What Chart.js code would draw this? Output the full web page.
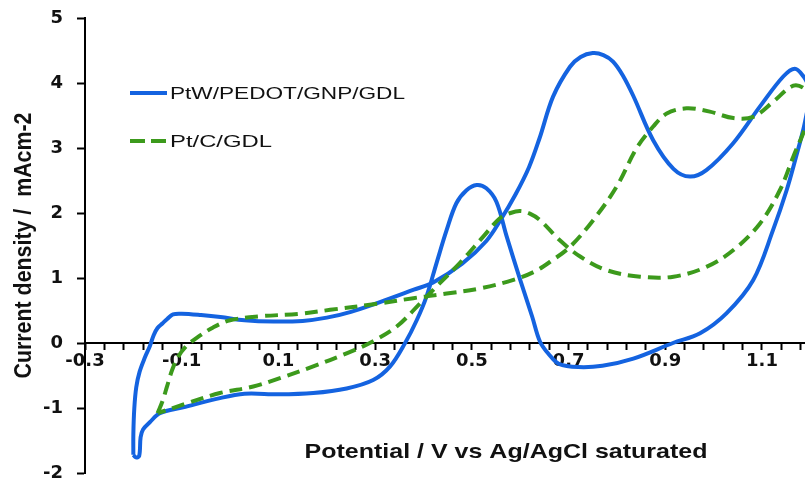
<!DOCTYPE html>
<html>
<head>
<meta charset="utf-8">
<script src="https://cdn.jsdelivr.net/npm/chart.js@4.4.1/dist/chart.umd.min.js"></script>
<style>
  html, body { margin: 0; padding: 0; background: #ffffff; }
  #wrap { width: 805px; height: 483px; }
</style>
</head>
<body>
<div id="wrap"><canvas id="cv" width="805" height="483"></canvas></div>
<script>
// Cyclic voltammograms of two electrodes (potential in V, current density in mA/cm2)
const seriesNames = ['PtW/PEDOT/GNP/GDL', 'Pt/C/GDL'];

const ptwPotential = [
  -0.200, -0.200, -0.198, -0.194, -0.187, -0.176, -0.166, -0.158, -0.150, -0.140,
  -0.130, -0.118, -0.100, -0.060, -0.020, 0.030, 0.090, 0.150, 0.200, 0.250,
  0.310, 0.380, 0.420, 0.480, 0.530, 0.560, 0.590, 0.618, 0.640, 0.668,
  0.703, 0.725, 0.750, 0.772, 0.792, 0.812, 0.834, 0.875, 0.917, 0.951,
  0.985, 1.040, 1.096, 1.144, 1.168, 1.186, 1.197, 1.203, 1.196, 1.186,
  1.170, 1.151, 1.123, 1.082, 1.027, 0.972, 0.916, 0.834, 0.770, 0.720,
  0.680, 0.660, 0.641, 0.625, 0.600, 0.572, 0.551, 0.530, 0.510, 0.489,
  0.468, 0.448, 0.427, 0.406, 0.386, 0.362, 0.331, 0.296, 0.241, 0.172,
  0.100, 0.030, -0.028, -0.097, -0.145, -0.166, -0.180, -0.185, -0.188, -0.195,
  -0.200
];
const ptwCurrent = [
  -1.72, -1.40, -1.00, -0.68, -0.44, -0.22, -0.05, 0.12, 0.23, 0.30,
  0.37, 0.44, 0.45, 0.43, 0.40, 0.35, 0.33, 0.34, 0.39, 0.48,
  0.63, 0.82, 0.93, 1.22, 1.57, 1.90, 2.28, 2.70, 3.15, 3.79,
  4.25, 4.40, 4.46, 4.43, 4.33, 4.12, 3.80, 3.12, 2.68, 2.56,
  2.66, 3.07, 3.64, 4.10, 4.22, 4.10, 3.95, 3.85, 3.65, 3.30,
  2.85, 2.35, 1.74, 0.97, 0.46, 0.15, 0.00, -0.24, -0.35, -0.37,
  -0.32, -0.18, 0.02, 0.40, 0.97, 1.64, 2.17, 2.38, 2.43, 2.35,
  2.15, 1.74, 1.23, 0.71, 0.35, 0.00, -0.36, -0.57, -0.70, -0.77,
  -0.79, -0.78, -0.86, -0.99, -1.08, -1.22, -1.33, -1.45, -1.74, -1.76,
  -1.72
];

const ptcPotential = [
  -0.150, -0.140, -0.130, -0.120, -0.108, -0.092, -0.069, -0.035, 0.000, 0.060,
  0.145, 0.207, 0.310, 0.379, 0.448, 0.517, 0.586, 0.630, 0.662, 0.703,
  0.751, 0.799, 0.841, 0.875, 0.903, 0.944, 0.992, 1.041, 1.082, 1.123,
  1.165, 1.190, 1.203, 1.198, 1.189, 1.165, 1.137, 1.096, 1.041, 0.985,
  0.917, 0.848, 0.779, 0.724, 0.682, 0.641, 0.620, 0.600, 0.580, 0.558,
  0.524, 0.475, 0.427, 0.393, 0.344, 0.289, 0.241, 0.172, 0.103, 0.048,
  -0.021, -0.090, -0.150
];
const ptcCurrent = [
  -1.08, -0.90, -0.66, -0.42, -0.22, -0.06, 0.08, 0.24, 0.35, 0.41,
  0.45, 0.51, 0.61, 0.69, 0.76, 0.84, 0.97, 1.10, 1.25, 1.48,
  1.89, 2.40, 3.00, 3.33, 3.53, 3.61, 3.56, 3.46, 3.48, 3.71,
  3.96, 3.90, 3.70, 3.55, 3.30, 2.87, 2.35, 1.84, 1.43, 1.17,
  1.02, 1.02, 1.12, 1.33, 1.58, 1.89, 1.99, 2.03, 2.00, 1.92,
  1.64, 1.23, 0.87, 0.61, 0.25, 0.00, -0.16, -0.36, -0.54, -0.67,
  -0.77, -0.93, -1.08
];

const xLabelValues = [-0.3, -0.1, 0.1, 0.3, 0.5, 0.7, 0.9, 1.1];
const yTickValues = [-2, -1, 0, 1, 2, 3, 4, 5];
const xTitle = 'Potential / V vs Ag/AgCl saturated';
const yTitle = 'Current density /  mAcm-2';

const BLUE = '#1463e0';
const GREEN = '#3c9a1c';
const INK = '#111111';

const toPoints = (xs, ys) => xs.map((x, i) => ({ x: x, y: ys[i] }));

// Draws text squeezed/stretched to a given width, optionally rotated
function fitText(ctx, text, font, x, y, width, align, angle, thick) {
  ctx.save();
  ctx.font = font;
  const w = ctx.measureText(text).width;
  ctx.translate(x, y);
  ctx.rotate(angle || 0);
  ctx.scale(width / w, thick || 1);
  ctx.textAlign = align;
  ctx.textBaseline = 'middle';
  ctx.fillStyle = INK;
  ctx.fillText(text, 0, 0);
  ctx.restore();
}

const labelsPlugin = {
  id: 'labelsPlugin',
  afterDraw(chart) {
    const ctx = chart.ctx;
    const a = chart.chartArea;

    // axis titles
    fitText(ctx, xTitle, 'bold 21px "Liberation Sans", Arial, sans-serif',
            a.left + 421, a.bottom - 21, 403, 'center', 0, 1);
    fitText(ctx, yTitle, 'bold 21px "Liberation Sans", Arial, sans-serif',
            25, (a.top + a.bottom) / 2, 266, 'center', -Math.PI / 2, 1.1);

    // legend
    const lx = a.left + 45;
    const rows = [
      { y: a.top + 75, color: BLUE, dash: [] },
      { y: a.top + 123, color: GREEN, dash: [15, 6] }
    ];
    rows.forEach((r) => {
      ctx.save();
      ctx.strokeStyle = r.color;
      ctx.lineWidth = 4;
      ctx.setLineDash(r.dash);
      ctx.beginPath();
      ctx.moveTo(lx, r.y);
      ctx.lineTo(lx + 37, r.y);
      ctx.stroke();
      ctx.restore();
    });
    fitText(ctx, seriesNames[0], '16.5px "Liberation Sans", Arial, sans-serif',
            lx + 40, rows[0].y + 1, 235, 'left', 0, 1);
    fitText(ctx, seriesNames[1], '16.5px "Liberation Sans", Arial, sans-serif',
            lx + 40, rows[1].y + 1, 102, 'left', 0, 1);
  }
};

const tickFont = { family: 'DejaVu Sans', weight: 'bold', size: 18 };

new Chart(document.getElementById('cv'), {
  type: 'scatter',
  data: {
    datasets: [
      {
        label: seriesNames[0],
        data: toPoints(ptwPotential, ptwCurrent),
        showLine: true,
        borderColor: BLUE,
        backgroundColor: BLUE,
        borderWidth: 4,
        pointRadius: 0,
        tension: 0.35,
        fill: false,
        order: 1
      },
      {
        label: seriesNames[1],
        data: toPoints(ptcPotential, ptcCurrent),
        showLine: true,
        borderColor: GREEN,
        backgroundColor: GREEN,
        borderWidth: 4,
        borderDash: [13, 7],
        pointRadius: 0,
        tension: 0.35,
        fill: false,
        order: 0
      }
    ]
  },
  options: {
    responsive: false,
    animation: false,
    devicePixelRatio: 1,
    layout: { padding: { top: 18, right: 0, bottom: 10, left: 0 } },
    elements: { line: { capBezierPoints: false } },
    plugins: {
      legend: { display: false },
      tooltip: { enabled: false }
    },
    scales: {
      x: {
        type: 'linear',
        min: -0.3,
        max: 1.189,
        position: { y: 0 },
        afterBuildTicks: (s) => {
          const t = [];
          for (let k = 0; k <= 37; k++) t.push({ value: +(-0.3 + 0.04 * k).toFixed(2) });
          s.ticks = t;
        },
        afterFit: (s) => { s.height = 0; s.paddingTop = 0; s.paddingBottom = 0; },
        ticks: {
          autoSkip: false,
          maxRotation: 0,
          padding: 2,
          color: INK,
          font: tickFont,
          callback: (v) => {
            const hit = xLabelValues.find((t) => Math.abs(t - v) < 1e-6);
            return hit === undefined ? '' : hit.toFixed(1);
          }
        },
        grid: { drawOnChartArea: false, drawTicks: true, tickLength: 6, tickWidth: 2, tickColor: '#000' },
        border: { display: true, color: '#000', width: 2 }
      },
      y: {
        type: 'linear',
        min: -2,
        max: 5,
        afterBuildTicks: (s) => { s.ticks = yTickValues.map((v) => ({ value: v })); },
        afterFit: (s) => { s.width = 85; s.paddingTop = 0; s.paddingBottom = 0; },
        ticks: { padding: 14, color: INK, font: tickFont },
        grid: { drawOnChartArea: false, drawTicks: true, tickLength: 8, tickWidth: 2, tickColor: '#000' },
        border: { display: true, color: '#000', width: 2 }
      }
    }
  },
  plugins: [labelsPlugin]
});
</script>
</body>
</html>
